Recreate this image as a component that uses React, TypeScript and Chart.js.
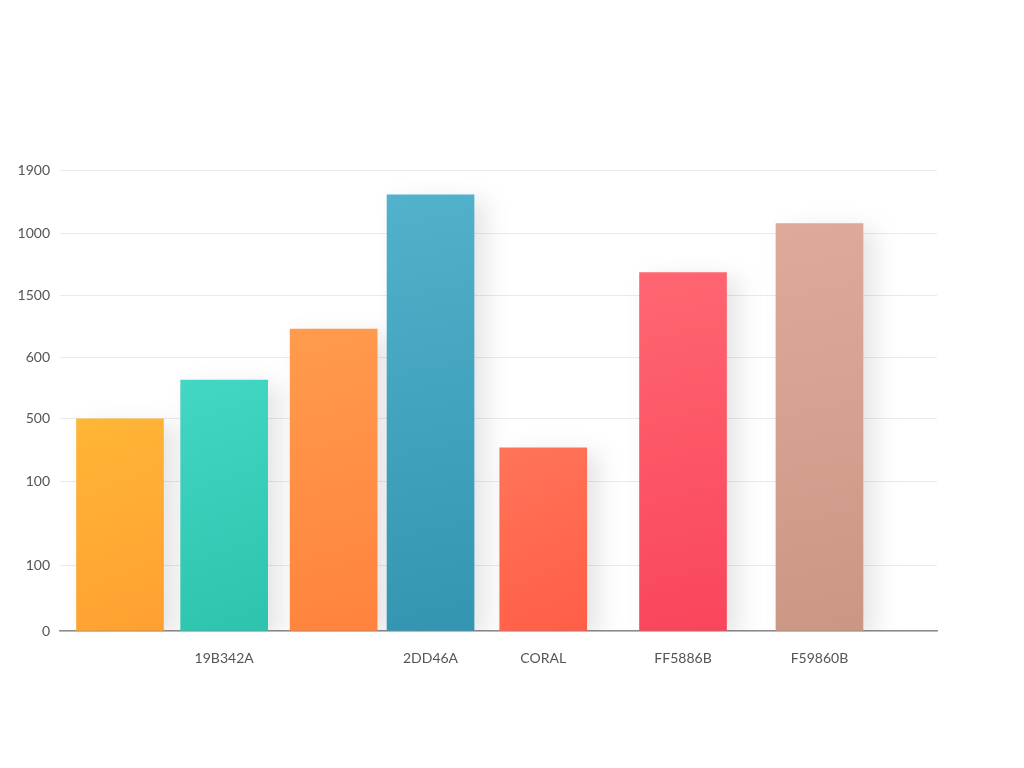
import Chart from 'chart.js/auto'
import { useEffect, useRef } from 'react'

// bar labels under the axis (two bars carry none)
const categories = ['', '19B342A', '', '2DD46A', 'CORAL', 'FF5886B', 'F59860B']
// where each bar stands along the x axis (0-100)
const positions = [6.84, 18.72, 31.2, 42.25, 55.1, 71.04, 86.6]
const values = [874, 1034, 1244, 1798, 755, 1477, 1679]

// y gridlines and the text printed beside them
const tickValues = [0, 269, 618, 874, 1128, 1382, 1639, 1900]
const tickLabels = ['0', '100', '100', '500', '600', '1500', '1000', '1900']

const topColors = ['#FFB637', '#42D7C2', '#FF9B4D', '#52B1CB', '#FF7459', '#FF6672', '#DDA999']
const bottomColors = ['#FFA031', '#2DC3AD', '#FF833D', '#3395B1', '#FF5E46', '#F9455B', '#CB9785']

const barShadow = {
  id: 'barShadow',
  beforeDatasetsDraw(chart: Chart) {
    const { ctx } = chart
    ctx.save()
    ctx.shadowColor = 'rgba(0, 0, 0, 0.10)'
    ctx.shadowBlur = 22
    ctx.shadowOffsetX = 12
    ctx.shadowOffsetY = 6
  },
  afterDatasetsDraw(chart: Chart) {
    chart.ctx.restore()
  },
}

const App = (): JSX.Element => {
  const graphCanvas = useRef<HTMLCanvasElement | null>(null)
  const graphInstance = useRef<Chart | null>(null)

  useEffect(() => {
    if (!graphCanvas.current) return

    graphInstance.current = new Chart(graphCanvas.current, {
      type: 'bar',
      data: {
        datasets: [
          {
            data: positions.map((x, i) => ({ x, y: values[i] })),
            barThickness: 87,
            borderWidth: 0,
            backgroundColor: (c: any) => {
              const chart = c.chart
              const i = c.dataIndex
              if (!chart.chartArea || i === undefined) return topColors[i ?? 0]
              const xs = chart.scales.x
              const ys = chart.scales.y
              const cx = xs.getPixelForValue(positions[i])
              const top = ys.getPixelForValue(values[i])
              const bottom = ys.getPixelForValue(0)
              const g = chart.ctx.createLinearGradient(cx - 43, top, cx + 43, bottom)
              g.addColorStop(0, topColors[i])
              g.addColorStop(1, bottomColors[i])
              return g
            },
          },
        ],
      },
      options: {
        responsive: true,
        maintainAspectRatio: false,
        animation: false,
        layout: { padding: { top: 170, right: 87, left: 0, bottom: 0 } },
        plugins: {
          legend: { display: false },
          tooltip: { enabled: false },
        },
        scales: {
          x: {
            type: 'linear',
            min: 0,
            max: 100,
            offset: false,
            grid: { display: false, drawTicks: false },
            border: { display: true, color: '#8c8c8c', width: 1.5 },
            afterBuildTicks: (scale: any) => {
              scale.ticks = positions.map((v) => ({ value: v }))
            },
            afterFit: (scale: any) => {
              scale.height = 137
            },
            ticks: {
              autoSkip: false,
              maxRotation: 0,
              padding: 19,
              color: '#555',
              font: { family: 'Lato', size: 14 },
              callback: (_v: any, i: number) => categories[i],
            },
          },
          y: {
            min: 0,
            max: 1900,
            grid: { color: '#e9e9ee', lineWidth: 1, drawTicks: false },
            border: { display: false },
            afterBuildTicks: (scale: any) => {
              scale.ticks = tickValues.map((v) => ({ value: v }))
            },
            afterFit: (scale: any) => {
              scale.width = 60
            },
            ticks: {
              padding: 10,
              color: '#555',
              font: { family: 'Lato', size: 14 },
              callback: (_v: any, i: number) => tickLabels[i],
            },
          },
        },
      },
      plugins: [barShadow],
    })

    return () => {
      graphInstance.current?.destroy()
    }
  }, [])

  return (
    <div style={{ position: 'fixed', left: 0, top: 0, width: 1024, height: 768, background: '#fff' }}>
      <canvas ref={graphCanvas} />
    </div>
  )
}

export default App
